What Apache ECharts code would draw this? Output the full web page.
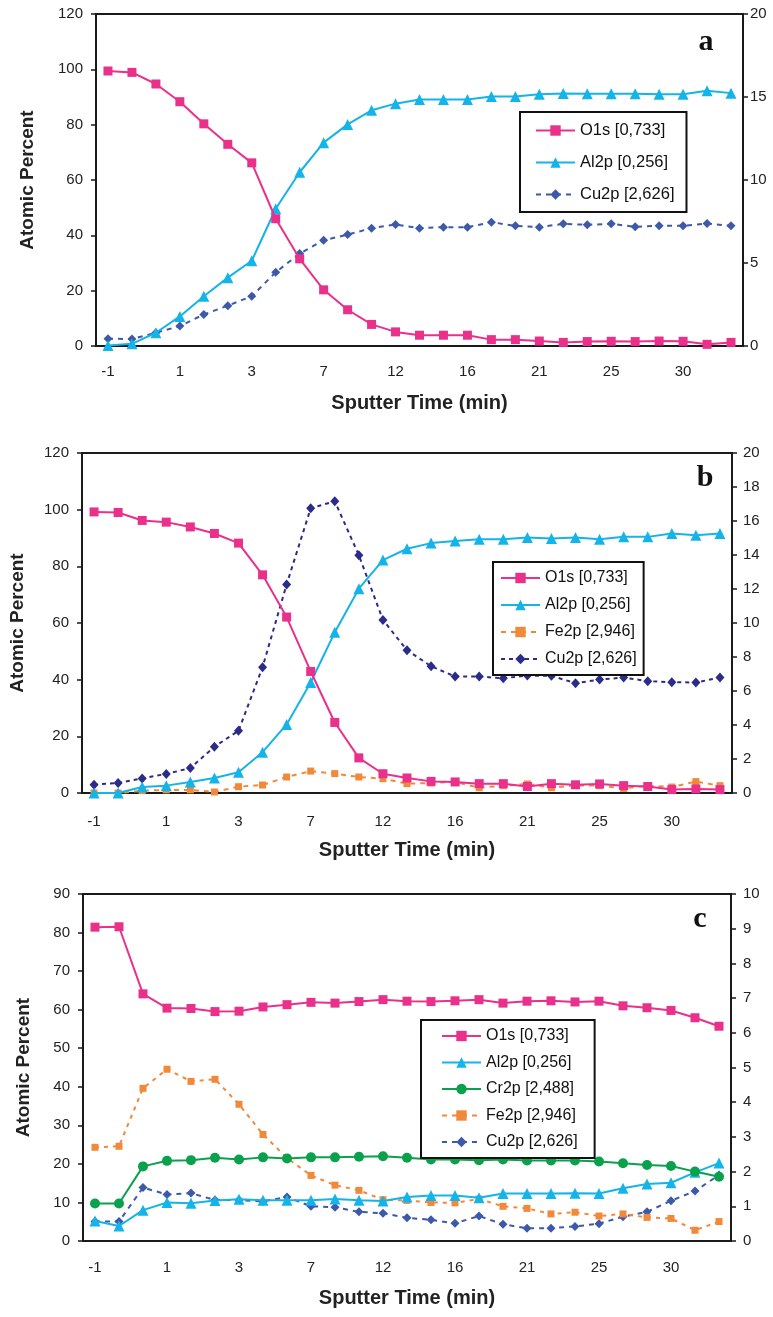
<!DOCTYPE html>
<html>
<head>
<meta charset="utf-8">
<script src="https://cdn.jsdelivr.net/npm/echarts@6/dist/echarts.min.js"></script>
<style>
html,body{margin:0;padding:0;background:#fff;}
#chart{width:773px;height:1317px;}
</style>
</head>
<body>
<div id="chart"></div>
<script>
// Sputter time categories (only every third is labelled)
var categories = ['-1','0','0.5','1','1.5','2','3','4','5','7','8','10','12','13','14','16','17','19','21','22','23','25','26','28','30','31','33'];

// Panel a
var aO1s  = [99.4, 98.9, 94.7, 88.3, 80.3, 72.9, 66.2, 46.0, 31.5, 20.3, 13.1, 7.8, 5.1, 3.9, 3.9, 3.9, 2.3, 2.3, 1.8, 1.3, 1.6, 1.7, 1.6, 1.8, 1.7, 0.6, 1.3];
var aAl2p = [0.2, 0.8, 4.8, 10.7, 18.0, 24.7, 30.8, 49.6, 62.8, 73.5, 80.1, 85.2, 87.6, 89.1, 89.1, 89.1, 90.2, 90.2, 91.0, 91.3, 91.2, 91.2, 91.2, 91.0, 91.0, 92.3, 91.4];
var aCu2p = [0.44, 0.42, 0.8, 1.2, 1.9, 2.43, 3.0, 4.44, 5.57, 6.37, 6.71, 7.1, 7.32, 7.1, 7.16, 7.16, 7.46, 7.24, 7.16, 7.36, 7.3, 7.36, 7.18, 7.24, 7.24, 7.38, 7.24];

// Panel b
var bO1s  = [99.2, 99.0, 96.2, 95.6, 93.9, 91.6, 88.2, 77.0, 62.1, 42.9, 24.9, 12.4, 6.8, 5.3, 4.1, 3.9, 3.3, 3.3, 2.3, 3.3, 2.9, 3.2, 2.6, 2.3, 1.2, 1.4, 1.2];
var bAl2p = [0, 0, 2.1, 2.6, 3.9, 5.3, 7.3, 14.4, 24.2, 39.0, 56.7, 72.1, 82.2, 86.2, 88.2, 88.9, 89.6, 89.6, 90.2, 89.8, 90.2, 89.6, 90.4, 90.4, 91.6, 91.0, 91.6];
var bFe2p = [0, 0, 0.14, 0.18, 0.18, 0.06, 0.37, 0.47, 0.94, 1.29, 1.14, 0.94, 0.84, 0.55, 0.59, 0.65, 0.31, 0.43, 0.53, 0.31, 0.45, 0.43, 0.27, 0.43, 0.35, 0.67, 0.43];
var bCu2p = [0.49, 0.59, 0.86, 1.12, 1.47, 2.72, 3.66, 7.4, 12.27, 16.75, 17.16, 13.99, 10.18, 8.4, 7.46, 6.85, 6.85, 6.75, 6.91, 6.89, 6.46, 6.67, 6.79, 6.58, 6.52, 6.5, 6.79];

// Panel c
var cO1s  = [81.4, 81.5, 64.1, 60.4, 60.3, 59.5, 59.6, 60.7, 61.3, 61.9, 61.7, 62.1, 62.6, 62.2, 62.1, 62.3, 62.6, 61.7, 62.2, 62.3, 62.0, 62.2, 61.0, 60.5, 59.8, 57.9, 55.7];
var cAl2p = [5.2, 3.9, 8.0, 10.0, 9.8, 10.5, 10.8, 10.6, 10.6, 10.6, 10.9, 10.6, 10.4, 11.4, 11.8, 11.8, 11.2, 12.3, 12.3, 12.3, 12.4, 12.3, 13.7, 14.8, 15.1, 17.8, 20.2];
var cCr2p = [1.08, 1.08, 2.15, 2.31, 2.33, 2.40, 2.35, 2.41, 2.38, 2.41, 2.41, 2.43, 2.44, 2.40, 2.35, 2.35, 2.33, 2.35, 2.32, 2.32, 2.32, 2.29, 2.24, 2.19, 2.16, 2.0, 1.85];
var cFe2p = [2.70, 2.73, 4.40, 4.95, 4.60, 4.66, 3.94, 3.07, 2.39, 1.89, 1.61, 1.46, 1.19, 1.17, 1.11, 1.10, 1.21, 1.0, 0.94, 0.78, 0.83, 0.72, 0.78, 0.68, 0.65, 0.31, 0.56];
var cCu2p = [0.56, 0.56, 1.54, 1.34, 1.38, 1.18, 1.18, 1.14, 1.27, 1.0, 0.97, 0.84, 0.80, 0.67, 0.61, 0.51, 0.72, 0.48, 0.37, 0.37, 0.42, 0.50, 0.70, 0.84, 1.16, 1.44, 1.90];

// Axis ranges
var leftAxes  = [{max:120, step:20}, {max:120, step:20}, {max:90, step:10}];
var rightAxes = [{max:20, step:5}, {max:20, step:2}, {max:10, step:1}];
var panelLetters = ['a', 'b', 'c'];

var N = {O:'O1s [0,733]', Al:'Al2p [0,256]', Cr:'Cr2p [2,488]', Fe:'Fe2p [2,946]', Cu:'Cu2p [2,626]'};
var COL = {O:'#e9308b', Al:'#14b4e9', Cr:'#0aa14c', Fe:'#f0893a', Cu:'#3d59a9', CuB:'#2b2b88'};
var FONT = '"Liberation Sans", Arial, sans-serif';
var AXC = '#1a1a1a';

var grids = [
  {left:96, top:14, width:647, height:332},
  {left:79, top:453, width:653, height:340},
  {left:83, top:894, width:648, height:347}
];
var xLabelMargin = [18, 21, 19];
var yNameGap = [59, 55, 50];
var rightMargin = [7, 11, 12];

var option = {
  animation:false,
  backgroundColor:'#fff',
  textStyle:{fontFamily:FONT},
  grid: grids.map(function(g){ return {left:g.left, top:g.top, width:g.width, height:g.height, show:true, borderColor:AXC, borderWidth:2, containLabel:false}; }),
  xAxis: [0,1,2].map(function(i){
    return {
      type:'category', gridIndex:i, data:categories, boundaryGap:true,
      name:'Sputter Time (min)', nameLocation:'middle', nameGap:47,
      nameTextStyle:{fontFamily:FONT, fontWeight:'bold', fontSize:20, color:'#222'},
      axisLine:{lineStyle:{color:AXC, width:2}},
      axisTick:{interval:0, length:5, lineStyle:{color:AXC, width:1.5}},
      axisLabel:{interval:2, margin:xLabelMargin[i], fontSize:15, color:'#222', fontFamily:FONT},
      splitLine:{show:false}
    };
  }),
  yAxis: [],
  series: [],
  legend: [],
  graphic: []
};

[0,1,2].forEach(function(i){
  option.yAxis.push({
    type:'value', gridIndex:i, position:'left', min:0, max:leftAxes[i].max, interval:leftAxes[i].step,
    name:'Atomic Percent', nameLocation:'middle', nameGap:yNameGap[i], nameRotate:90,
    nameTextStyle:{fontFamily:FONT, fontWeight:'bold', fontSize:19, color:'#222'},
    axisLine:{show:true, lineStyle:{color:AXC, width:2}},
    axisTick:{show:true, length:5, lineStyle:{color:AXC, width:1.5}},
    axisLabel:{margin:13, fontSize:15, color:'#222', fontFamily:FONT},
    splitLine:{show:false}
  });
  option.yAxis.push({
    type:'value', gridIndex:i, position:'right', min:0, max:rightAxes[i].max, interval:rightAxes[i].step,
    axisLine:{show:true, lineStyle:{color:AXC, width:2}},
    axisTick:{show:true, length:5, lineStyle:{color:AXC, width:1.5}},
    axisLabel:{margin:rightMargin[i], fontSize:15, color:'#222', fontFamily:FONT},
    splitLine:{show:false}
  });
});

function line(name, data, panel, right, color, symbol, size, dash, z){
  return {
    type:'line', name:name, data:data,
    xAxisIndex:panel, yAxisIndex:panel*2 + (right?1:0),
    symbol:symbol, symbolSize:size, showSymbol:true,
    itemStyle:{color:color},
    lineStyle:{color:color, width:2, type:dash || 'solid'},
    z: z || 2
  };
}

// panel a
option.series.push(line(N.Cu, aCu2p, 0, true, COL.Cu, 'diamond', 9, [5,5], 2));
option.series.push(line(N.Al, aAl2p, 0, false, COL.Al, 'triangle', 11, null, 3));
option.series.push(line(N.O,  aO1s,  0, false, COL.O, 'rect', 9, null, 4));
// panel b
option.series.push(line(N.Cu, bCu2p, 1, true, COL.CuB, 'diamond', [9,10], [4,4], 2));
option.series.push(line(N.Fe, bFe2p, 1, true, COL.Fe, 'rect', 7, [5,5], 2));
option.series.push(line(N.Al, bAl2p, 1, false, COL.Al, 'triangle', 11, null, 3));
option.series.push(line(N.O,  bO1s,  1, false, COL.O, 'rect', 9, null, 4));
// panel c
option.series.push(line(N.Cu, cCu2p, 2, true, COL.Cu, 'diamond', 9, [5,5], 2));
option.series.push(line(N.Fe, cFe2p, 2, true, COL.Fe, 'rect', 7, [4,5], 2));
option.series.push(line(N.Al, cAl2p, 2, false, COL.Al, 'triangle', 11, null, 3));
option.series.push(line(N.Cr, cCr2p, 2, true, COL.Cr, 'circle', 10, null, 3));
option.series.push(line(N.O,  cO1s,  2, false, COL.O, 'rect', 9, null, 4));

function legendItem(name, color, dash){
  return {name:name, itemStyle:{color:color}, lineStyle:{color:color, width:2, type:dash || 'solid'}};
}
function makeLegend(left, top, items, gap, fs, pad){
  return {
    orient:'vertical', left:left, top:top, data:items,
    itemWidth:39, itemHeight:13, itemGap:gap,
    padding:pad,
    borderColor:'#111', borderWidth:2, backgroundColor:'#fff',
    textStyle:{fontFamily:FONT, fontSize:fs, color:'#111'},
    selectedMode:false
  };
}
option.legend.push(makeLegend(520, 112, [
  legendItem(N.O, COL.O), legendItem(N.Al, COL.Al), legendItem(N.Cu, COL.Cu, [5,5])
], 15, 16.5, [10, 12, 9, 15]));
option.legend.push(makeLegend(493, 562, [
  legendItem(N.O, COL.O), legendItem(N.Al, COL.Al), legendItem(N.Fe, COL.Fe, [5,5]), legendItem(N.Cu, COL.CuB, [4,4])
], 11, 16, [8, 7, 8, 7]));
option.legend.push(makeLegend(421, 1020, [
  legendItem(N.O, COL.O), legendItem(N.Al, COL.Al), legendItem(N.Cr, COL.Cr), legendItem(N.Fe, COL.Fe, [5,5]), legendItem(N.Cu, COL.Cu, [5,5])
], 10.5, 16, [8, 17, 8, 20]));

var letterPos = [[706, 42], [705, 478], [700, 919]];
panelLetters.forEach(function(t, i){
  option.graphic.push({
    type:'text', x:letterPos[i][0], y:letterPos[i][1], z:100,
    style:{text:t, fill:'#111', font:'bold 30px "Liberation Serif", "Times New Roman", serif', textAlign:'center', textVerticalAlign:'middle'}
  });
});

var chart = echarts.init(document.getElementById('chart'), null, {renderer:'canvas'});
chart.setOption(option);
</script>
</body>
</html>
